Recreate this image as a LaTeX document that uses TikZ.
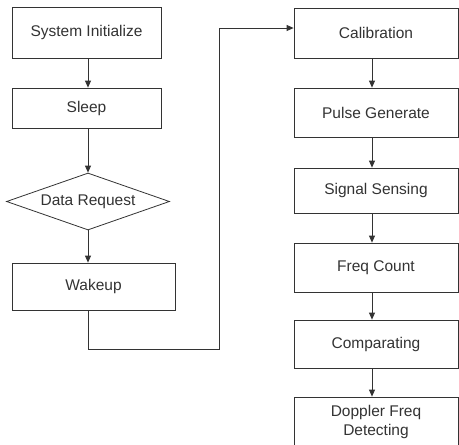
\documentclass[tikz,border=0pt]{standalone}
\usepackage{fontspec}
\setmainfont{Liberation Sans}
\usetikzlibrary{shapes.geometric,arrows.meta}
\definecolor{ink}{HTML}{333333}
\begin{document}
\begin{tikzpicture}[x=1pt,y=-1pt,
  every node/.style={text=ink,font=\fontsize{15.5}{18.5}\selectfont},
  boxL/.style={draw=ink,line width=0.8pt,rectangle,inner sep=0pt,minimum width=149pt},
  boxR/.style={draw=ink,line width=0.8pt,rectangle,inner sep=0pt,minimum width=164pt,align=center},
  dia/.style={draw=ink,line width=0.8pt,diamond,inner sep=0pt,shape aspect=2.86,minimum width=163pt,minimum height=57pt},
  conn/.style={draw=ink,line width=0.8pt,-{Triangle[length=7pt,width=6pt]}},
  plain/.style={draw=ink,line width=0.8pt}]
\useasboundingbox (0,0) rectangle (459,445);
\fill[white] (0,0) rectangle (459,445);
% left column
\node[boxL,minimum height=51pt] (init) at (86.5,32.5) {System Initialize};
\node[boxL,minimum height=40pt] (sleep) at (86.5,108) {Sleep};
\node[dia] (dr) at (88,201.5) {Data Request};
\node[boxL,minimum width=163pt,minimum height=47pt] (wake) at (93.5,286.5) {Wakeup};
% right column
\node[boxR,minimum height=50pt] (cal) at (376,33) {Calibration};
\node[boxR,minimum height=49pt] (pulse) at (376,112.5) {Pulse Generate};
\node[boxR,minimum height=45pt] (sig) at (376,190.5) {Signal Sensing};
\node[boxR,minimum height=49pt] (freq) at (376,267.5) {Freq Count};
\node[boxR,minimum height=48pt] (comp) at (376,344) {Comparating};
\node[boxR,minimum height=50pt] (dop) at (376,422) {Doppler Freq\\Detecting};
% route coordinates
\coordinate (c1) at (88,349);
\coordinate (c2) at (219,349);
\coordinate (c3) at (219,28);
% left connectors
\draw[conn] ([xshift=1.5pt]init.south) -- ([xshift=1.5pt]sleep.north);
\draw[conn] ([xshift=1.5pt]sleep.south) -- (dr.north);
\draw[conn] (dr.south) -- (dr.south |- wake.north);
\draw[plain] (dr.south |- wake.south) -- (c1) -- (c2) -- (c3);
\draw[conn] (c3) -- (cal.west |- c3);
% right connectors
\draw[conn] ([xshift=-4pt]cal.south) -- ([xshift=-4pt]pulse.north);
\draw[conn] ([xshift=-4pt]pulse.south) -- ([xshift=-4pt]sig.north);
\draw[conn] ([xshift=-4pt]sig.south) -- ([xshift=-4pt]freq.north);
\draw[conn] ([xshift=-4pt]freq.south) -- ([xshift=-4pt]comp.north);
\draw[conn] ([xshift=-4pt]comp.south) -- ([xshift=-4pt]dop.north);
\end{tikzpicture}
\end{document}
